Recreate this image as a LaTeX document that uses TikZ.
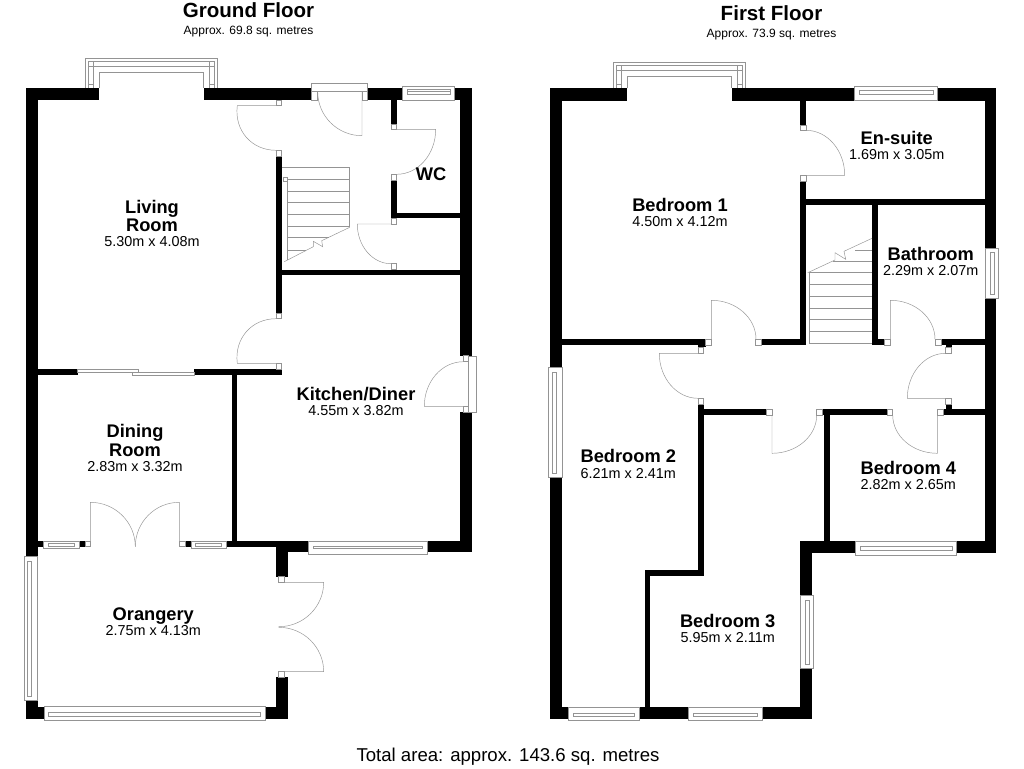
\documentclass[tikz,border=0pt]{standalone}
\usepackage{fontspec}
\setmainfont{Liberation Sans}
\tikzset{
  x=0.75pt,y=-0.75pt,
  thinl/.style={draw=black!42,line width=0.35pt},
  jambs/.style={draw=black!42,line width=0.35pt,fill=white},
  roomname/.style={font=\fontsize{13.7}{13.9}\selectfont\bfseries,inner sep=0pt,align=center},
  roomdim/.style={font=\fontsize{10.8}{12}\selectfont,inner sep=0pt,anchor=base},
  titlet/.style={font=\fontsize{15.4}{17}\selectfont\bfseries,inner sep=0pt,anchor=base},
  subt/.style={font=\fontsize{9}{11}\selectfont,inner sep=0pt,anchor=base},
  totalt/.style={font=\fontsize{13.95}{16}\selectfont,inner sep=0pt,anchor=base}
}
\newcommand\wallrect[4]{\fill[black] (#1,#2) rectangle (#3,#4);}
\newcommand\jamb[4]{\draw[jambs] (#1,#2) rectangle (#3,#4);}
% hinge x,y; leaf end x,y; arc end x,y
\newcommand\doorleaf[6]{%
  \pgfmathsetmacro\cax{#3+.5523*(#5-#1)}\pgfmathsetmacro\cay{#4+.5523*(#6-#2)}%
  \pgfmathsetmacro\cbx{#5+.5523*(#3-#1)}\pgfmathsetmacro\cby{#6+.5523*(#4-#2)}%
  \draw[thinl] (#1,#2)--(#3,#4) .. controls (\cax,\cay) and (\cbx,\cby) .. (#5,#6);}
% horizontal window: x1,y1,x2,y2,inner y a,b
\newcommand\winh[6]{\draw[jambs] (#1,#2) rectangle (#3,#4);
  \draw[thinl] (#1+4.5,#5) rectangle (#3-4.5,#6);}
\newcommand\winv[6]{\draw[jambs] (#1,#2) rectangle (#3,#4);
  \draw[thinl] (#5,#2+4.5) rectangle (#6,#4-4.5);}
% bay: outer left, outer right, top, base
\newcommand\bay[4]{%
  \draw[thinl] (#1,#4)--(#1,#3)--(#2,#3)--(#2,#4);
  \draw[thinl] (#1+3,#4)--(#1+3,#3+3)--(#2-3,#3+3)--(#2-3,#4);
  \draw[thinl] (#1+8,#4)--(#1+8,#3+8)--(#2-8,#3+8)--(#2-8,#4);
  \draw[thinl] (#1+3,#3+8)--(#1+8,#3+8) (#2-8,#3+8)--(#2-3,#3+8);
  \draw[thinl] (#1+8,#3+3)--(#1+8,#3+8) (#2-8,#3+3)--(#2-8,#3+8);
  \draw[thinl] (#1+3,#4-4)--(#1+8,#4-4) (#2-8,#4-4)--(#2-3,#4-4);
  \draw[thinl] (#1+14,#4)--(#1+14,#3+14)--(#2-14,#3+14)--(#2-14,#4);}
\begin{document}
\begin{tikzpicture}
\useasboundingbox (0,0) rectangle (1024,768);
\fill[white] (0,0) rectangle (1024,768);

% ---------- GROUND FLOOR ----------
\bay{85.3}{217.7}{58.3}{88}
% walls
\wallrect{26}{88}{99.3}{100}
\wallrect{204.3}{88}{311}{100}
\wallrect{367.3}{88}{402.3}{100}
\wallrect{454.7}{88}{472}{100}
\wallrect{26}{88}{37.7}{556.7}
\wallrect{460.3}{88}{472}{355.7}
\wallrect{460.3}{412.3}{472}{552.3}
\wallrect{276}{541}{308.3}{552.3}
\wallrect{427}{541}{472}{552.3}
\wallrect{276}{541}{287.7}{576.7}
\wallrect{276}{677.3}{287.7}{719}
\wallrect{265}{706.7}{287.7}{719}
\wallrect{26}{700.3}{37.7}{719}
\wallrect{26}{706.7}{44}{719}
\wallrect{276}{156}{281.7}{313.3}
\wallrect{281.7}{269.7}{460.3}{275.3}
\wallrect{391}{100}{396.7}{124}
\wallrect{391}{180}{396.7}{218.3}
\wallrect{391}{213}{460.3}{218.3}
\wallrect{37.7}{369.3}{77.7}{375.3}
\wallrect{194.3}{369.3}{281.7}{375.3}
\wallrect{232}{375}{237.3}{541}
\wallrect{226}{541}{276.7}{546.7}
\wallrect{37.7}{541}{43.3}{546.7}
\wallrect{79}{541}{85}{546.7}
\wallrect{185}{541}{191}{546.7}
% living upper door
\jamb{276}{100}{281.7}{105.7}\jamb{276}{150.3}{281.7}{156}
\doorleaf{281.7}{105.7}{237.3}{105.7}{276}{150.3}
% front door
\draw[jambs] (311,83.3) rectangle (367.3,91.7);
\jamb{311}{91.7}{317.7}{100}\jamb{362}{91.7}{367.3}{100}
\doorleaf{362}{91.7}{362}{135.7}{317.7}{91.7}
% WC window
\winh{402.3}{86}{454.7}{100}{89}{94.5}
\draw[thinl] (407,91)--(450,91);
% WC door
\jamb{391}{124}{396.7}{129.3}\jamb{391}{174.3}{396.7}{180}
\doorleaf{396.7}{129.3}{435.7}{129.3}{396.7}{174.3}
% cupboard door
\jamb{391}{218.3}{396.7}{224}\jamb{391}{263.7}{396.7}{269.7}
\doorleaf{391}{224}{357.3}{224}{391}{263.7}
% lower living door
\jamb{276}{313.3}{281.7}{318.7}\jamb{276}{363.3}{281.7}{369.3}
\doorleaf{281.7}{363.3}{237.3}{363.3}{276}{318.7}
% sliding door
\draw[jambs] (77.7,369.3) rectangle (138.3,372.7);
\draw[jambs] (132.7,372.3) rectangle (194.3,375.3);
% kitchen side door
\draw[jambs] (468,356) rectangle (476,412);
\jamb{463.3}{406.3}{468}{412.3}\jamb{463.3}{355.7}{468}{361.7}
\doorleaf{463.3}{406.3}{424.3}{406.3}{463.3}{361.7}
% kitchen window
\winh{308.3}{541}{427}{554.3}{546.7}{548.7}
% orangery windows
\winv{24.7}{556.7}{37.7}{700.3}{27.7}{31.7}
\winh{44}{706.7}{265}{720.3}{712.7}{716}
% dining small windows
\winh{43.3}{541}{79}{548.3}{543.3}{546.7}
\winh{191}{541}{226}{548.3}{543.3}{546.7}
% French door dining
\jamb{85}{541}{90.3}{546.7}\jamb{179.3}{541}{185}{546.7}
\doorleaf{90.3}{546.7}{90.3}{502.3}{135.3}{546.7}
\doorleaf{179.3}{546.7}{179.3}{502.3}{135.3}{546.7}
% French door orangery
\jamb{278.7}{576.7}{284.7}{582.3}\jamb{278.7}{671.7}{284.7}{677.3}
\doorleaf{278.7}{582.3}{323.7}{582.3}{278.7}{626.7}
\doorleaf{278.7}{671.7}{323.7}{671.7}{278.7}{627.3}
% stairs ground
\draw[thinl] (281.7,167.7)--(349.7,167.7)--(349.7,227.3);
\foreach \ty in {179.3,191.3,202.7,214.3,226}{\draw[thinl] (287,\ty)--(349.7,\ty);}
\draw[thinl] (287,237.7)--(329,237.7) (287,250)--(306,250);
\draw[thinl] (287,181)--(287,260);
\draw[jambs] (283.3,177.3) rectangle (287.7,181.3);
\draw[thinl] (284.3,261.7)--(313.3,246.7)--(313.3,241.3)--(322.7,246.7)--(321.7,240.7)--(349.7,227.3);

% ---------- FIRST FLOOR ----------
\bay{613.3}{745.7}{62.7}{88.3}
\wallrect{550}{88.3}{627.3}{100.7}
\wallrect{732}{88.3}{854.3}{100.7}
\wallrect{937.7}{88.3}{996.3}{100.7}
\wallrect{550}{88.3}{562.3}{366.7}
\wallrect{550}{477.7}{562.3}{719.3}
\wallrect{984.7}{88.3}{996.3}{248}
\wallrect{984.7}{298.3}{996.3}{552.7}
\wallrect{956}{541}{996.3}{552.7}
\wallrect{800.3}{541}{855.3}{552.7}
\wallrect{800.3}{541}{812.3}{595.3}
\wallrect{800.3}{668.3}{812.3}{719.3}
\wallrect{550}{707.3}{568.3}{719.3}
\wallrect{639}{707.3}{688.3}{719.3}
\wallrect{762}{707.3}{812.3}{719.3}
\wallrect{645}{570}{650.3}{707.3}
\wallrect{645}{570}{703.7}{575.7}
\wallrect{698}{404}{703.7}{575.7}
\wallrect{703.7}{409.3}{766.7}{415}
\wallrect{822}{409.3}{887.3}{415}
\wallrect{943.3}{409.3}{985.3}{415}
\wallrect{945.7}{404}{951.7}{415}
\wallrect{824.3}{415}{830.3}{541}
\wallrect{562.3}{339.3}{705.7}{345.3}
\wallrect{698}{345}{705.7}{347.3}
\wallrect{761.3}{339.3}{806}{345.3}
\wallrect{877.7}{339.3}{884.3}{345.3}
\wallrect{941}{339.3}{985.3}{345.3}
\wallrect{945.7}{345}{951.7}{347.3}
\wallrect{800.3}{100.7}{806}{125}
\wallrect{800.3}{181}{806}{345}
\wallrect{800.3}{199}{985}{205}
\wallrect{872}{205}{878}{345}
% en-suite window & door
\winh{854.3}{86}{937.7}{100.7}{90.7}{94}
\jamb{800.3}{125}{806}{130.3}\jamb{800.3}{175.3}{806}{181}
\doorleaf{806}{175.3}{844.7}{175.3}{806}{130.3}
% bedroom 1 door
\jamb{705.7}{339.3}{711.3}{345.3}\jamb{755.3}{339.3}{761.3}{345.3}
\doorleaf{711.3}{339.3}{711.3}{300.3}{756}{339.3}
% stairs first
\foreach \ty in {284.3,296.7,308.3,319.3,331.7,343.7}{\draw[thinl] (809.3,\ty)--(872,\ty);}
\draw[thinl] (855,250)--(872,250) (833,261.7)--(872,261.7) (809.3,272.7)--(872,272.7);
\draw[thinl] (809.3,272)--(809.3,344);
\draw[thinl] (807.7,272.7)--(835,260)--(835,252.7)--(845.7,259.3)--(844,251.3)--(872,238.3);
% bathroom door & window
\jamb{884.3}{339.3}{890.3}{345.3}\jamb{935}{339.3}{941}{345.3}
\doorleaf{890.3}{339.3}{890.3}{300.3}{935}{339.3}
\winv{985.3}{248}{998.3}{298.3}{990}{994}
% bedroom 2 door & window
\jamb{698}{347.3}{703.7}{353.3}\jamb{698}{398.3}{703.7}{404}
\doorleaf{698}{353.3}{659.3}{353.3}{698}{398.3}
\winv{548.7}{367.3}{562.3}{477.7}{552}{556.7}
% cupboard door
\jamb{945.7}{347.3}{951.7}{353.3}\jamb{945.7}{398.3}{951.7}{404}
\doorleaf{945.7}{398.3}{907.3}{398.3}{945.7}{353.3}
% bedroom 3 door
\jamb{766.7}{409.3}{772}{415}\jamb{816.7}{409.3}{822}{415}
\doorleaf{772}{415}{772}{453.3}{816.7}{415}
% bedroom 4 door
\jamb{887.3}{409.3}{892.7}{415}\jamb{937.3}{409.3}{943.3}{415}
\doorleaf{937.3}{415}{937.3}{453.3}{892.7}{415}
% remaining windows
\winv{800.3}{595.3}{813.7}{668.3}{805.7}{809.3}
\winh{855.3}{541}{956.7}{555}{546.7}{550}
\winh{568.3}{707.3}{639}{720.7}{713.3}{716.7}
\winh{688.3}{707.3}{762}{720.7}{713.3}{716.7}

% ---------- TEXT ----------
\node[titlet] (gtitle) at (248.5,17.5) {Ground Floor};
\node[subt] (gsub) at (248.5,34) {Approx. 69.8 sq. metres};
\node[titlet] (ftitle) at (771.5,20.5) {First Floor};
\node[subt] (fsub) at (771.5,37) {Approx. 73.9 sq. metres};
\node[totalt] (total) at (508,761) {Total area: approx. 143.6 sq. metres};

\node[roomname] (living) at (152,216) {Living\\Room};
\node[roomdim] (livingd) at (152,246.5) {5.30m x 4.08m};
\node[roomname,anchor=base] (wc) at (431,180.5) {WC};
\node[roomname,anchor=base] (kitchen) at (356,400.5) {Kitchen/Diner};
\node[roomdim] (kitchend) at (356,415.5) {4.55m x 3.82m};
\node[roomname] (dining) at (135,440.5) {Dining\\Room};
\node[roomdim] (diningd) at (135,471.5) {2.83m x 3.32m};
\node[roomname,anchor=base] (orangery) at (153.3,620.5) {Orangery};
\node[roomdim] (orangeryd) at (153.3,635) {2.75m x 4.13m};
\node[roomname,anchor=base] (ensuite) at (896.7,144) {En-suite};
\node[roomdim] (ensuited) at (896.7,159) {1.69m x 3.05m};
\node[roomname,anchor=base] (bed1) at (680,211) {Bedroom 1};
\node[roomdim] (bed1d) at (680,226) {4.50m x 4.12m};
\node[roomname,anchor=base] (bath) at (930.7,260) {Bathroom};
\node[roomdim] (bathd) at (930.7,275) {2.29m x 2.07m};
\node[roomname,anchor=base] (bed2) at (628.3,462.5) {Bedroom 2};
\node[roomdim] (bed2d) at (628.3,478) {6.21m x 2.41m};
\node[roomname,anchor=base] (bed3) at (727.7,627) {Bedroom 3};
\node[roomdim] (bed3d) at (727.7,642) {5.95m x 2.11m};
\node[roomname,anchor=base] (bed4) at (908.3,474) {Bedroom 4};
\node[roomdim] (bed4d) at (908.3,489.5) {2.82m x 2.65m};
\end{tikzpicture}
\end{document}
